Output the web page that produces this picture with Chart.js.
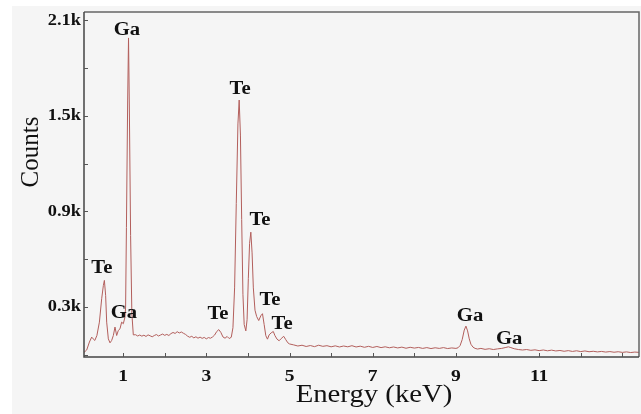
<!DOCTYPE html>
<html>
<head>
<meta charset="utf-8">
<script src="https://cdn.jsdelivr.net/npm/chart.js@4/dist/chart.umd.min.js"></script>
<style>
  html, body { margin: 0; padding: 0; background: #ffffff; }
  canvas { display: block; }
</style>
</head>
<body>
<canvas id="edsChart" width="641" height="414"></canvas>
<script>
// EDS spectrum of GaTe: energy (keV) vs counts
const energy = [
  0.06, 0.125, 0.19, 0.245, 0.28, 0.32, 0.37, 0.43, 0.485, 0.525, 0.55, 0.58, 0.605, 0.645,
  0.685, 0.725, 0.765, 0.805, 0.845, 0.885, 0.925, 0.965, 1.005, 1.045, 1.06, 1.08, 1.11, 1.13,
  1.15, 1.18, 1.21, 1.245,
  1.3, 1.35, 1.4, 1.45, 1.5, 1.55, 1.6, 1.65, 1.7, 1.75, 1.8, 1.85, 1.9, 1.95, 2.0, 2.05, 2.1,
  2.15, 2.2, 2.25, 2.3, 2.35, 2.4, 2.45, 2.5, 2.55, 2.6, 2.65, 2.7, 2.75, 2.8, 2.85, 2.9, 2.95,
  3.0, 3.05, 3.1, 3.15, 3.2, 3.25, 3.3, 3.35, 3.4, 3.45, 3.5, 3.55,
  3.6, 3.64, 3.68, 3.72, 3.76, 3.79, 3.82, 3.85, 3.88, 3.91, 3.95, 3.98, 4.01, 4.04, 4.07, 4.1,
  4.13, 4.17, 4.21, 4.26, 4.31, 4.35, 4.39, 4.43, 4.47, 4.51, 4.56, 4.61, 4.65, 4.7, 4.75, 4.8,
  4.86, 4.91, 4.96, 5.0,
  5.1, 5.2, 5.3, 5.4, 5.5, 5.6, 5.7, 5.8, 5.9, 6.0, 6.1, 6.2, 6.3, 6.4, 6.5, 6.6, 6.7, 6.8, 6.9,
  7.0, 7.1, 7.2, 7.3, 7.4, 7.5, 7.6, 7.7, 7.8, 7.9, 8.0, 8.1, 8.2, 8.3, 8.4, 8.5, 8.6, 8.7, 8.8,
  8.9, 9.0,
  9.05, 9.1, 9.15, 9.2, 9.24, 9.28, 9.32, 9.36, 9.41, 9.46, 9.52, 9.6, 9.7, 9.8, 9.9, 10.0, 10.1,
  10.2, 10.26, 10.32, 10.4, 10.5,
  10.6, 10.7, 10.8, 10.9, 11.0, 11.1, 11.2, 11.3, 11.4, 11.5, 11.6, 11.7, 11.8, 11.9, 12.0, 12.1,
  12.2, 12.3, 12.4, 12.5, 12.6, 12.7, 12.8, 12.9, 13.0, 13.1, 13.2, 13.3, 13.4
]
const counts = [
  15, 30, 80, 111, 100, 90, 121, 205, 352, 435, 467, 373, 205, 100,
  75, 90, 121, 174, 121, 153, 163, 205, 195, 237, 300, 800, 1600, 1990,
  1550, 750, 260, 125,
  126, 118, 124, 117, 123, 115, 125, 119, 113, 121, 127, 118, 124, 130, 122, 128, 121,
  133, 140, 134, 145, 137, 143, 135, 128, 117, 110, 116, 106, 113, 104, 111, 103, 109,
  100, 108, 104, 112, 124, 146, 158, 140, 112, 104, 115, 102,
  110, 170, 420, 950, 1450, 1600, 1380, 850, 380, 190, 150, 220, 480, 700, 770, 640,
  420, 280, 240, 215, 245, 258, 190, 120, 98, 125, 138, 146, 120, 98, 88, 102,
  116, 95, 75, 68,
  62, 55, 60, 52, 58, 51, 60, 53, 57, 50, 56, 49, 55, 50, 57, 49, 54, 47, 53,
  46, 52, 45, 50, 44, 49, 43, 48, 41, 47, 42, 46, 40, 45, 39, 44, 40, 45, 39,
  43, 40,
  44, 58, 95, 155, 180, 150, 100, 66, 48, 40, 36, 40, 34, 38, 33, 37, 40,
  46, 50, 45, 38, 33,
  30, 33, 28, 31, 26, 30, 25, 29, 24, 27, 22, 26, 21, 25, 20, 24,
  19, 22, 18, 21, 17, 20, 16, 19, 15, 18, 14, 17, 15
]

// element markers placed above the peaks (energy, counts)
const peakLabels = ['Te', 'Ga', 'Ga', 'Te', 'Te', 'Te', 'Te', 'Te', 'Ga', 'Ga']
const peakLabelEnergy = [0.49, 1.09, 1.02, 3.28, 3.81, 4.29, 4.53, 4.82, 9.34, 10.28]
const peakLabelCounts = [545, 2040, 262, 256, 1665, 847, 344, 193, 244, 99]

const xTickValues = [1, 2, 3, 4, 5, 6, 7, 8, 9, 10, 11, 12, 13]
const xTickLabels = [1, 3, 5, 7, 9, 11]
const yTickValues = [0, 300, 600, 900, 1200, 1500, 1800, 2100]
const yLabelValues = [300, 900, 1500, 2100]
const yLabelText = ['0.3k', '0.9k', '1.5k', '2.1k']

const spectrum = energy.map((e, i) => ({ x: e, y: counts[i] }))

const SERIF = '"Liberation Serif", "Times New Roman", serif'
const STRETCH = 1.15

// text helper: horizontally widened serif text
function putText(ctx, text, x, y, font, align) {
  ctx.save()
  ctx.font = font
  ctx.textAlign = align
  ctx.textBaseline = 'middle'
  ctx.translate(x, y)
  ctx.scale(STRETCH, 1)
  ctx.fillText(text, 0, 0)
  ctx.restore()
}

const framePlugin = {
  id: 'frame',
  beforeDraw(chart) {
    const ctx = chart.ctx
    ctx.save()
    ctx.fillStyle = '#ffffff'
    ctx.fillRect(0, 0, chart.width, chart.height)
    ctx.fillStyle = '#f5f5f5'
    ctx.fillRect(12, 6, chart.width - 12, chart.height - 6)
    ctx.restore()
  },
  afterDraw(chart) {
    const ctx = chart.ctx
    const { left, right, top, bottom } = chart.chartArea
    const xs = chart.scales.x
    const ys = chart.scales.y
    ctx.save()

    // top and right border
    ctx.strokeStyle = '#666666'
    ctx.lineWidth = 1.5
    ctx.beginPath()
    ctx.moveTo(left, top)
    ctx.lineTo(right, top)
    ctx.lineTo(right, bottom)
    ctx.stroke()

    // left and bottom axes
    ctx.strokeStyle = '#444444'
    ctx.beginPath()
    ctx.moveTo(left, top)
    ctx.lineTo(left, bottom)
    ctx.lineTo(right, bottom)
    ctx.stroke()

    // inward tick marks
    ctx.lineWidth = 1
    ctx.strokeStyle = '#555555'
    ctx.beginPath()
    xTickValues.forEach((v) => {
      const px = Math.round(xs.getPixelForValue(v)) + 0.5
      ctx.moveTo(px, bottom)
      ctx.lineTo(px, bottom - 4)
    })
    yTickValues.forEach((v) => {
      const py = Math.round(ys.getPixelForValue(v)) + 0.5
      ctx.moveTo(left, py)
      ctx.lineTo(left + 4, py)
    })
    ctx.stroke()

    ctx.fillStyle = '#111111'
    xTickLabels.forEach((v) => {
      putText(ctx, String(v), xs.getPixelForValue(v), bottom + 20, 'bold 17px ' + SERIF, 'center')
    })
    yLabelValues.forEach((v, i) => {
      putText(ctx, yLabelText[i], left - 3, ys.getPixelForValue(v), 'bold 16px ' + SERIF, 'right')
    })

    peakLabels.forEach((t, i) => {
      putText(ctx, t, xs.getPixelForValue(peakLabelEnergy[i]), ys.getPixelForValue(peakLabelCounts[i]),
        'bold 18px ' + SERIF, 'center')
    })

    // axis titles
    putText(ctx, 'Energy (keV)', 374, 395, '25px ' + SERIF, 'center')
    ctx.save()
    ctx.translate(31, 152)
    ctx.rotate(-Math.PI / 2)
    ctx.font = '25px ' + SERIF
    ctx.textAlign = 'center'
    ctx.textBaseline = 'middle'
    ctx.fillText('Counts', 0, 0)
    ctx.restore()

    ctx.restore()
  }
}

new Chart(document.getElementById('edsChart'), {
  type: 'line',
  data: {
    datasets: [{
      data: spectrum,
      borderColor: '#b35f5c',
      borderWidth: 1,
      pointRadius: 0,
      tension: 0,
      fill: false
    }]
  },
  options: {
    responsive: false,
    animation: false,
    devicePixelRatio: 1,
    layout: { padding: { left: 84, top: 12, right: 2, bottom: 57 } },
    plugins: { legend: { display: false }, tooltip: { enabled: false } },
    scales: {
      x: { type: 'linear', min: 0.06, max: 13.4, display: false },
      y: { min: -14, max: 2153, display: false }
    }
  },
  plugins: [framePlugin]
})
</script>
</body>
</html>
